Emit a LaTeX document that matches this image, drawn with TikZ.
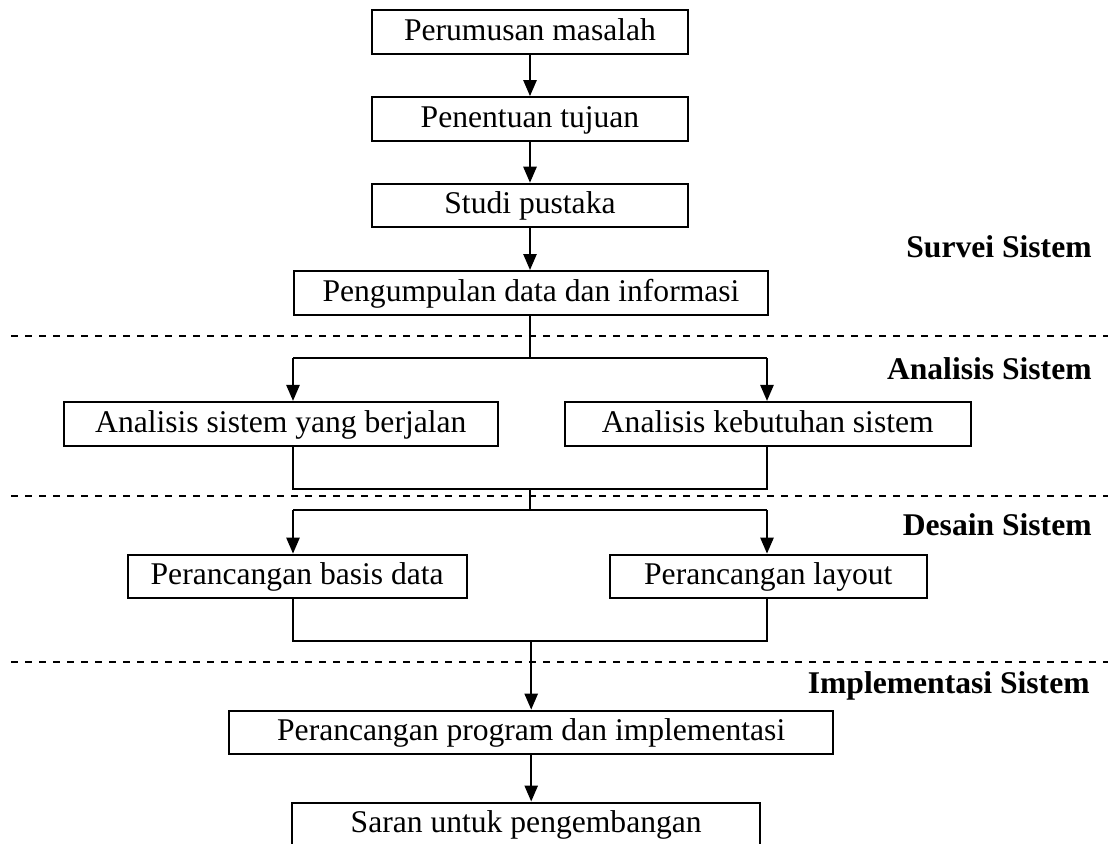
\documentclass[tikz,border=0pt]{standalone}
\usepackage{fontspec}
\setmainfont{Liberation Serif}
\usetikzlibrary{arrows.meta}

\tikzset{
  x=0.5pt, y=-0.5pt,
  every node/.style={font=\fontsize{15.8}{19}\selectfont},
  procbox/.style={draw, line width=1pt, inner sep=0pt, minimum height=21.8pt,
    text height=11.6pt, text depth=3.3pt, align=center},
  flow/.style={line width=1pt},
  flowarrow/.style={flow, -{Triangle[width=6.6pt,length=8pt]}},
  phaseline/.style={line width=1pt, dash pattern=on 3.7pt off 3.3pt},
  phaselabel/.style={anchor=base east, inner sep=0pt,
    font=\fontsize{15.8}{19}\selectfont\bfseries},
}

\begin{document}
\begin{tikzpicture}
\useasboundingbox (0,0) rectangle (1108,843);
\clip (0,0) rectangle (1108,843);

% process boxes
\node[procbox, minimum width=158pt] (rumus)  at (530,31.7)  {Perumusan masalah};
\node[procbox, minimum width=158pt] (tujuan) at (530,118.9) {Penentuan tujuan};
\node[procbox, minimum width=158pt] (studi)  at (530,205.5) {Studi pustaka};
\node[procbox, minimum width=236.8pt] (kumpul) at (531,292.8) {Pengumpulan data dan informasi};

\node[procbox, minimum width=217.2pt] (anjalan) at (280.8,423.7) {Analisis sistem yang berjalan};
\node[procbox, minimum width=203.2pt] (anbutuh) at (767.8,423.7) {Analisis kebutuhan sistem};

\node[procbox, minimum width=169.5pt] (basis)  at (297.2,576.4) {Perancangan basis data};
\node[procbox, minimum width=158.4pt] (layout) at (768.3,576.4) {Perancangan layout};

\node[procbox, minimum width=301.8pt] (program) at (531.2,732.4) {Perancangan program dan implementasi};
\node[procbox, minimum width=233.8pt] (saran)   at (526.2,824.3) {Saran untuk pengembangan};

% phase separators
\coordinate (d1a) at (11,336);   \coordinate (d1b) at (1108,336);
\coordinate (d2a) at (11,496);   \coordinate (d2b) at (1108,496);
\coordinate (d3a) at (11,662);   \coordinate (d3b) at (1108,662);
\draw[phaseline] (d1a) -- (d1b);
\draw[phaseline] (d2a) -- (d2b);
\draw[phaseline] (d3a) -- (d3b);

% phase labels
\node[phaselabel] (lsurvei) at (1092,257) {Survei Sistem};
\node[phaselabel] (lanalisis) at (1092,379) {Analisis Sistem};
\node[phaselabel] (ldesain) at (1092,535) {Desain Sistem};
\node[phaselabel] (limpl) at (1090,693) {Implementasi Sistem};

% junction coordinates
\coordinate (s1) at (530,358);
\coordinate (s1l) at (293,358);
\coordinate (s1r) at (767,358);
\coordinate (j2l) at (293,489);
\coordinate (j2r) at (767,489);
\coordinate (j2) at (530,489);
\coordinate (s2) at (530,510);
\coordinate (s2l) at (293,510);
\coordinate (s2r) at (767,510);
\coordinate (j3l) at (293,641);
\coordinate (j3r) at (767,641);
\coordinate (j3) at (531.2,641);

% top chain
\draw[flowarrow] (rumus) -- (tujuan);
\draw[flowarrow] (tujuan) -- (studi);
\draw[flowarrow] (studi.south) -- (studi.south |- kumpul.north);

% survey -> analysis
\draw[flow] (kumpul.south -| s1) -- (s1);
\draw[flow] (s1l) -- (s1r);
\draw[flowarrow] (s1l) -- (s1l |- anjalan.north);
\draw[flowarrow] (s1r) -- (s1r |- anbutuh.north);

% analysis -> design
\draw[flow] (j2l |- anjalan.south) -- (j2l) -- (j2r) -- (j2r |- anbutuh.south);
\draw[flow] (j2) -- (s2);
\draw[flow] (s2l) -- (s2r);
\draw[flowarrow] (s2l) -- (s2l |- basis.north);
\draw[flowarrow] (s2r) -- (s2r |- layout.north);

% design -> implementation
\draw[flow] (j3l |- basis.south) -- (j3l) -- (j3r) -- (j3r |- layout.south);
\draw[flowarrow] (j3) -- (j3 |- program.north);
\draw[flowarrow] (program) -- (program.south |- saran.north);
\end{tikzpicture}
\end{document}
